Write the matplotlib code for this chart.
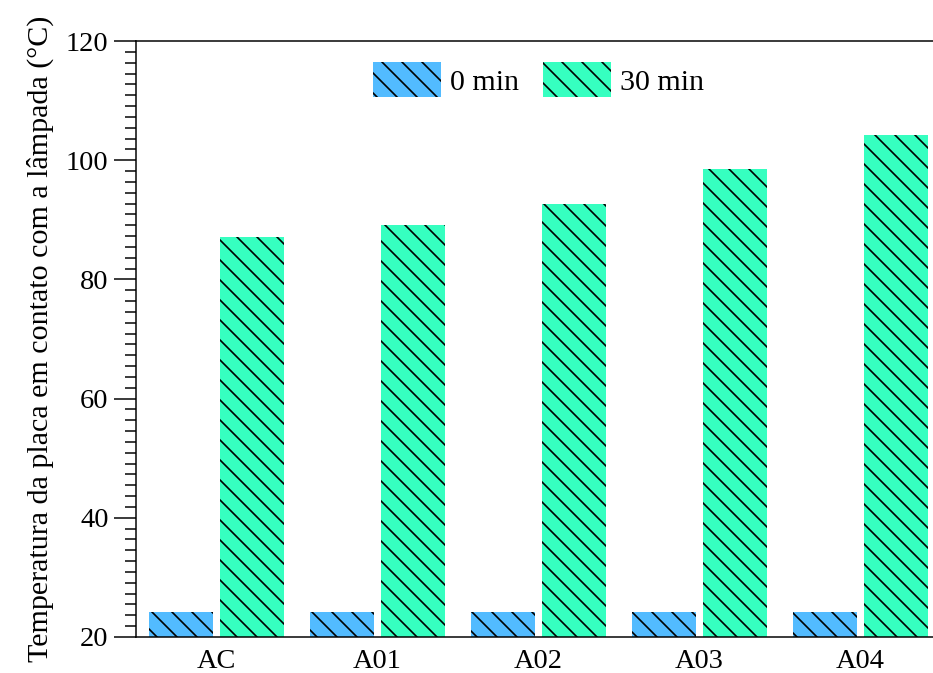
import numpy as np
import matplotlib
matplotlib.use("Agg")
import matplotlib.pyplot as plt
from matplotlib.ticker import MultipleLocator, AutoMinorLocator

plt.rcParams['font.family'] = ['Liberation Serif', 'DejaVu Serif']
plt.rcParams['hatch.linewidth'] = 1.0

amostras = ['AC', 'A01', 'A02', 'A03', 'A04']
temp_0min = [24.2, 24.2, 24.2, 24.2, 24.2]
temp_30min = [87.1, 89.1, 92.6, 98.6, 104.2]
series_labels = ['0 min', '30 min']

cor_0 = '#52BBFF'
cor_30 = '#36FFC0'

fig = plt.figure(figsize=(933 / 120, 673 / 120), dpi=120)
ax = fig.add_axes([0.1458, 0.0535, 0.8628, 0.8855])

x = np.arange(len(amostras))
w = 0.40
off = 0.22
ax.bar(x - off, temp_0min, w, bottom=0, color=cor_0, edgecolor='black',
       linewidth=0, hatch='\\\\', label=series_labels[0])
ax.bar(x + off, temp_30min, w, bottom=0, color=cor_30, edgecolor='black',
       linewidth=0, hatch='\\\\', label=series_labels[1])

ax.set_xlim(-0.5, 4.5)
ax.set_ylim(20, 120)
ax.set_xticks(x)
ax.set_xticklabels(amostras)
ax.yaxis.set_major_locator(MultipleLocator(20))
ax.yaxis.set_minor_locator(AutoMinorLocator(11))
ax.tick_params(axis='x', length=0, labelsize=17, pad=7)
ax.tick_params(axis='y', which='major', length=13, width=0.9, labelsize=17, direction='out')
ax.tick_params(axis='y', which='minor', length=6.6, width=0.9, direction='out')
for s in ['left', 'bottom', 'top']:
    ax.spines[s].set_linewidth(0.9)
ax.spines['right'].set_visible(False)

ax.set_ylabel('Temperatura da placa em contato com a lâmpada (°C)', fontsize=18, labelpad=7)

ax.legend(loc='upper center', bbox_to_anchor=(0.5, 1.01), ncol=2, frameon=False,
          fontsize=18, handlelength=2.27, handleheight=1.42, handletextpad=0.3,
          columnspacing=0.8)

fig.savefig('out.png', dpi=120)
